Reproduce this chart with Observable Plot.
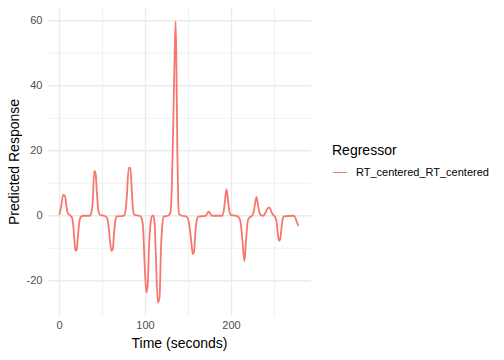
<!DOCTYPE html>
<html><head><meta charset="utf-8">
<script src="https://cdn.jsdelivr.net/npm/d3@7"></script>
<script src="https://cdn.jsdelivr.net/npm/@observablehq/plot@0.6"></script>
<style>
body{margin:0;background:#fff;font-family:"Liberation Sans",Arial,sans-serif}
#wrap{position:relative;width:504px;height:360px;overflow:hidden}
#wrap svg{position:absolute;left:0;top:0}
.t{position:absolute;white-space:nowrap;color:#000}
</style></head><body><div id="wrap"></div>
<script>
const times = [0,2,4,5,6.5,8,9.5,12,14.5,16,17.5,18.5,20,21.5,23,25,28,35,
36.5,38.5,40.5,42,43.5,45,47,52,55,57,59,60.5,62,63.5,65,66.5,74,
76,78,80.5,82.5,84,85.5,87,93,95,97,99,101,102.5,104,106,108,109,110.5,112,114.3,116.3,118,119.5,121,126,128,
129,130.5,132,133.5,135,136,137,138,139,143,148,150,152,154,155,156.5,158,159.5,161,170,172,173.5,175,177.5,189,
191,192.5,194.2,196,197.5,199,205,208.5,210.5,212.5,215,217,219,221,224,226,229,231,233,236,238,241,243.4,245,247,249.5,
251,252.5,254,255.3,256.5,258,259.5,261,272,274,276,277.5];
const values = [0.5,3,6.2,6.4,6,3,0.8,0.2,-0.5,-3,-8,-10.8,-10.4,-6,-2,-0.3,0,0,
0.5,4,13.8,13,7,2,0.3,0,-0.5,-3,-8.5,-10.8,-10.3,-5,-1.5,-0.2,0,
0.5,5,14.7,14.7,8,2,0.3,0,-0.5,-3,-15,-23.6,-21.5,-10,-2,0,0,-2,-12,-26.7,-25,-10,-3,-0.3,0,0.5,
1,8,25,45,59.8,45,20,5,0.5,0,-0.3,-1.5,-5,-10,-11.8,-11,-5,-1.5,-0.3,0,0.8,1.3,0.8,0,0,
1.5,5,8.2,4.5,1.5,0.3,0,-0.5,-2,-7,-14,-7,-1.5,-0.5,0,1.5,5.8,3,0.5,0,0.3,1.8,2.6,2.2,0.8,0,
-0.5,-2,-6,-7.7,-7.3,-4,-1,-0.2,0,-0.5,-2,-2.9];
const seriesName = "RT_centered_RT_centered";
const xTicks = [0, 100, 200];
const xMinor = [50, 150, 250];
const yTicks = [-20, 0, 20, 40, 60];
const yMinor = [-10, 10, 30, 50];
const xTitle = "Time (seconds)";
const yTitle = "Predicted Response";
const legendTitle = "Regressor";
const lineColor = "#F8766D";

const data = times.map((t, i) => ({t, v: values[i], s: seriesName}));

const plot = Plot.plot({
  width: 320, height: 360,
  marginLeft: 48, marginRight: 9, marginTop: 7, marginBottom: 44,
  x: {domain: [-12.8, 293]},
  y: {domain: [-31, 64.1]},
  style: {fontFamily: "'Liberation Sans', Arial, sans-serif", fontSize: "11px", color: "#4D4D4D", background: "transparent"},
  marks: [
    Plot.ruleX(xMinor, {stroke: "#EBEBEB", strokeWidth: 0.7}),
    Plot.ruleY(yMinor, {stroke: "#EBEBEB", strokeWidth: 0.7}),
    Plot.ruleX(xTicks, {stroke: "#EBEBEB", strokeWidth: 1.4}),
    Plot.ruleY(yTicks, {stroke: "#EBEBEB", strokeWidth: 1.4}),
    Plot.axisX({ticks: xTicks, tickSize: 0, tickPadding: 5, label: null, fontSize: 11, tickFormat: d => String(d)}),
    Plot.axisY({ticks: yTicks, tickSize: 0, tickPadding: 6, label: null, fontSize: 11, tickFormat: d => String(d)}),
    Plot.line(data, {x: "t", y: "v", stroke: lineColor, strokeWidth: 1.8, curve: "monotone-x"})
  ]
});

const wrap = document.getElementById("wrap");
wrap.appendChild(plot);
function addText(txt, css) {
  const d = document.createElement("div");
  d.className = "t";
  d.textContent = txt;
  Object.assign(d.style, css);
  wrap.appendChild(d);
  return d;
}
addText(xTitle, {left: "48px", width: "263px", textAlign: "center", top: "336px", fontSize: "14px", lineHeight: "14px"});
addText(yTitle, {left: "-136px", width: "300px", textAlign: "center", top: "155px", fontSize: "14px", lineHeight: "14px", transform: "rotate(-90deg)"});
addText(legendTitle, {left: "332px", top: "143px", fontSize: "14px", lineHeight: "14px"});
const key = document.createElement("div");
Object.assign(key.style, {position: "absolute", left: "333px", top: "171.6px", width: "14px", height: "1.8px", background: lineColor});
wrap.appendChild(key);
addText(seriesName, {left: "356px", top: "166.7px", fontSize: "11px", lineHeight: "11px"});
</script></body></html>
